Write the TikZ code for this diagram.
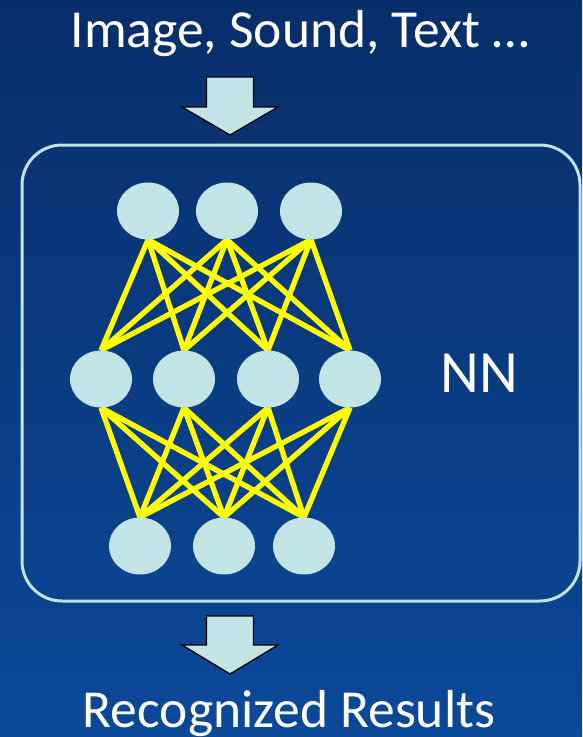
\documentclass[tikz,border=0pt]{standalone}
\usepackage{fontspec}
\setmainfont{Carlito}
\usetikzlibrary{shapes.geometric,calc}
\definecolor{bgtop}{RGB}{8,46,106}
\definecolor{bgbot}{RGB}{11,73,153}
\definecolor{nfill}{RGB}{195,228,231}
\definecolor{wirecol}{RGB}{255,255,0}
\pgfdeclarelayer{back}
\pgfsetlayers{back,main}
\begin{document}
\begin{tikzpicture}[x=1pt,y=-1pt,
  neuron/.style={ellipse, fill=nfill, minimum width=62pt, minimum height=57pt, inner sep=0pt},
  wire/.style={draw=wirecol, line width=5.3pt},
  blockarrow/.style={fill=nfill, draw=black, line width=1.3pt, line join=miter},
  txt/.style={text=white, inner sep=0pt, anchor=base}]
\begin{pgfonlayer}{back}
\shade[top color=bgtop, bottom color=bgbot] (0,0) rectangle (582,737);
\end{pgfonlayer}
\useasboundingbox (0,0) rectangle (582,737);

% frame
\node[draw=nfill, line width=3pt, rounded corners=40pt, minimum width=558pt, minimum height=456pt, inner sep=0pt] (box) at (301,373) {};

% neurons
\node[neuron] (t1) at (148,211) {};
\node[neuron] (t2) at (227,211) {};
\node[neuron] (t3) at (311,211) {};
\node[neuron] (m1) at (101,379) {};
\node[neuron] (m2) at (184,379) {};
\node[neuron] (m3) at (268,379) {};
\node[neuron] (m4) at (350,379) {};
\node[neuron] (b1) at (140,546) {};
\node[neuron] (b2) at (224,546) {};
\node[neuron] (b3) at (304,546) {};

\begin{pgfonlayer}{back}
\foreach \i in {1,2,3}{
  \foreach \j in {1,2,3,4}{
    \draw[wire] (t\i.south) -- (m\j.north);
    \draw[wire] (m\j.south) -- (b\i.north);
  }
}
\end{pgfonlayer}

% texts
\node[txt, font=\fontsize{53.5}{60}\selectfont] (title) at (300,47) {Image, Sound, Text …};
\node[txt, font=\fontsize{60}{70}\selectfont] (nn) at (479,392) {NN};
\node[txt, font=\fontsize{53.5}{60}\selectfont] (result) at (289,727) {Recognized Results};

% block arrows
\coordinate (a1) at (230,77);
\draw[blockarrow] ($(a1)+(-23.5,0)$) -- ($(a1)+(23.5,0)$) -- ($(a1)+(23.5,30)$) -- ($(a1)+(48,30)$)
  -- ($(a1)+(0,58)$) -- ($(a1)+(-48,30)$) -- ($(a1)+(-23.5,30)$) -- cycle;
\coordinate (a2) at (230,616);
\draw[blockarrow] ($(a2)+(-23.5,0)$) -- ($(a2)+(23.5,0)$) -- ($(a2)+(23.5,29)$) -- ($(a2)+(48,29)$)
  -- ($(a2)+(0,58)$) -- ($(a2)+(-48,29)$) -- ($(a2)+(-23.5,29)$) -- cycle;
\end{tikzpicture}
\end{document}
